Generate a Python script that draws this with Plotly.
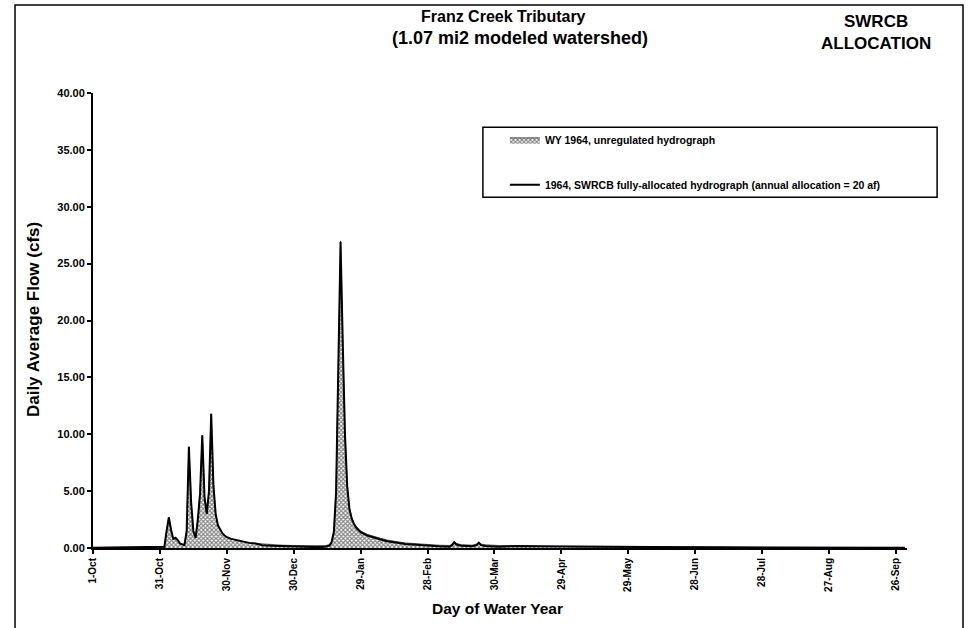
import plotly.graph_objects as go

# ---- data ----
days = [0, 10, 20, 25, 31, 32, 33, 34, 35, 36, 37, 38, 39, 40, 41, 42, 43, 44, 45, 46,
        47, 48, 49, 50, 51, 52, 53, 54, 55, 56, 57, 58, 59, 60, 62, 64, 66, 68, 70, 73,
        76, 80, 85, 90, 95, 100, 104, 106, 107, 108, 109, 110, 111, 112, 113, 114, 115,
        116, 117, 118, 120, 123, 126, 129, 132, 136, 140, 145, 150, 155, 160, 161, 162,
        163, 165, 170, 172, 173, 174, 176, 182, 190, 200, 220, 250, 280, 310, 340, 364]

unregulated = [0.02, 0.03, 0.05, 0.03, 0.05, 0.1, 1.5, 2.7, 1.6, 0.8, 0.9, 0.7, 0.4, 0.3, 0.25, 1.5, 8.9, 4.0, 1.5, 0.9,
               2.5, 4.8, 9.9, 4.5, 3.0, 5.0, 11.8, 5.5, 3.0, 2.0, 1.6, 1.3, 1.1, 0.95, 0.8, 0.7, 0.6, 0.5, 0.45, 0.4,
               0.35, 0.3, 0.25, 0.22, 0.2, 0.18, 0.2, 0.3, 0.6, 1.5, 5.0, 16.0, 27.0, 18.0, 10.0, 5.5, 3.5,
               2.7, 2.2, 1.9, 1.5, 1.2, 1.0, 0.85, 0.7, 0.55, 0.45, 0.38, 0.3, 0.25, 0.22, 0.35, 0.6,
               0.4, 0.3, 0.25, 0.35, 0.55, 0.35, 0.28, 0.22, 0.18, 0.15, 0.1, 0.08, 0.06, 0.05, 0.04, 0.03]

allocated = [0.02, 0.03, 0.05, 0.03, 0.05, 0.1, 1.5, 2.7, 1.6, 0.8, 0.9, 0.7, 0.4, 0.3, 0.25, 1.5, 8.9, 4.0, 1.5, 0.9,
             2.5, 4.8, 9.9, 4.5, 3.0, 5.0, 11.8, 5.5, 3.0, 2.0, 1.6, 1.3, 1.1, 0.95, 0.8, 0.7, 0.6, 0.5, 0.45, 0.4,
             0.25, 0.2, 0.15, 0.12, 0.1, 0.08, 0.1, 0.2, 0.5, 1.4, 4.9, 15.9, 26.9, 17.9, 9.9, 5.4, 3.4,
             2.6, 2.1, 1.8, 1.4, 1.1, 0.9, 0.75, 0.6, 0.45, 0.35, 0.28, 0.2, 0.15, 0.12, 0.25, 0.5,
             0.3, 0.2, 0.15, 0.25, 0.45, 0.25, 0.18, 0.12, 0.18, 0.15, 0.1, 0.08, 0.06, 0.05, 0.04, 0.03]

tick_days = [0, 30, 60, 90, 120, 150, 180, 210, 240, 270, 300, 330, 360]
tick_labels = ["1-Oct", "31-Oct", "30-Nov", "30-Dec", "29-Jan", "28-Feb", "30-Mar",
               "29-Apr", "29-May", "28-Jun", "28-Jul", "27-Aug", "26-Sep"]
y_ticks = [0, 5, 10, 15, 20, 25, 30, 35, 40]

FONT = "Liberation Sans"

fig = go.Figure()
fig.add_trace(go.Scatter(
    x=days, y=unregulated, mode="lines", fill="tozeroy",
    name="WY 1964, unregulated hydrograph",
    line=dict(color="black", width=0.6),
    fillcolor="white",
    fillpattern=dict(shape="x", size=3, solidity=0.6, fgcolor="black", bgcolor="white"),
    legendgroup="a",
))
fig.add_trace(go.Scatter(
    x=days, y=allocated, mode="lines",
    name="1964, SWRCB fully-allocated hydrograph (annual allocation = 20 af)",
    line=dict(color="black", width=2),
    legendgroup="b",
))

fig.update_layout(
    width=968, height=628,
    margin=dict(l=93, r=61, t=93, b=80),
    paper_bgcolor="white", plot_bgcolor="white",
    font=dict(family=FONT, color="black", size=10, weight="bold"),
    showlegend=True,
    legend=dict(x=0.506, y=0.929, xanchor="left", yanchor="top",
                bgcolor="rgba(0,0,0,0)", borderwidth=0,
                font=dict(size=10.5, family=FONT, weight="bold"),
                tracegroupgap=26, itemwidth=30),
    xaxis=dict(range=[0, 365], tickmode="array", tickvals=tick_days, ticktext=tick_labels,
               tickangle=-90, ticks="outside", ticklen=4, tickwidth=1.5, tickcolor="black",
               showline=True, linecolor="black", linewidth=2, showgrid=False, zeroline=False,
               tickfont=dict(size=10, family=FONT, weight="bold")),
    yaxis=dict(range=[0, 40], tickmode="array", tickvals=y_ticks, tickformat=".2f",
               ticks="outside", ticklen=4, tickwidth=1.5, tickcolor="black",
               showline=True, linecolor="black", linewidth=2, showgrid=False, zeroline=False,
               tickfont=dict(size=11, family=FONT, weight="bold")),
)

# legend box
fig.add_shape(type="rect", xref="paper", yref="paper",
              x0=0.479, x1=1.037, y0=0.771, y1=0.925,
              line=dict(color="black", width=1.5), fillcolor="rgba(0,0,0,0)")
# outer frame
fig.add_shape(type="rect", xref="paper", yref="paper",
              x0=-0.0958, x1=1.0688, y0=-0.25, y1=1.1934,
              line=dict(color="black", width=1.5), fillcolor="rgba(0,0,0,0)")

fig.add_annotation(xref="paper", yref="paper", x=0.5049, y=1.168, xanchor="center", yanchor="middle",
                   text="Franz Creek Tributary", showarrow=False,
                   font=dict(size=16, family=FONT, weight="bold"))
fig.add_annotation(xref="paper", yref="paper", x=0.5246, y=1.121, xanchor="center", yanchor="middle",
                   text="(1.07 mi2 modeled watershed)", showarrow=False,
                   font=dict(size=18, family=FONT, weight="bold"))
fig.add_annotation(xref="paper", yref="paper", x=0.962, y=1.134, xanchor="center", yanchor="middle",
                   text="SWRCB<br>ALLOCATION", showarrow=False,
                   font=dict(size=17, family=FONT, weight="bold"))
fig.add_annotation(xref="paper", yref="paper", x=0.4975, y=-0.134, xanchor="center", yanchor="middle",
                   text="Day of Water Year", showarrow=False,
                   font=dict(size=15.5, family=FONT, weight="bold"))
fig.add_annotation(xref="paper", yref="paper", x=-0.0737, y=0.501, xanchor="center", yanchor="middle",
                   text="Daily Average Flow (cfs)", textangle=-90, showarrow=False,
                   font=dict(size=17, family=FONT, weight="bold"))

fig.write_html("out.html", config={"displayModeBar": False},
               post_script="document.body.style.margin='0';document.body.style.overflow='hidden';")
